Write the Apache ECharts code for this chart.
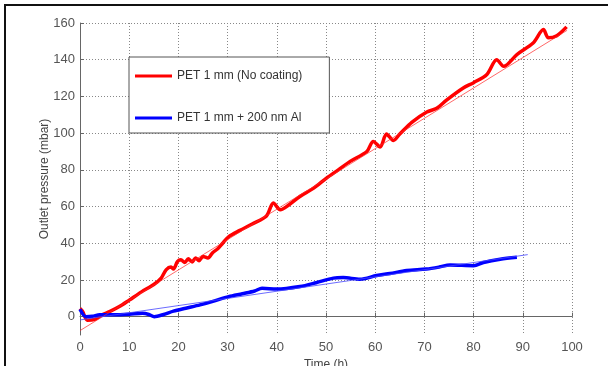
<!DOCTYPE html>
<html>
<head>
<meta charset="utf-8">
<script src="https://cdn.jsdelivr.net/npm/echarts@6/dist/echarts.min.js"></script>
<style>
  html, body { margin: 0; padding: 0; background: #fff; }
  #chart { width: 608px; height: 366px; }
</style>
</head>
<body>
<div id="chart"></div>
<script>
// values: [time (h), outlet pressure (mbar)]
var redData = [
  [0, 4.5], [0.5, 3], [1.5, -2], [3, -1.5], [4.5, 1], [6, 2.7], [8, 5.5], [10, 9],
  [12.5, 13.5], [15, 17.5], [16.5, 21], [17.5, 25.5], [18.5, 27], [19, 26], [19.8, 30],
  [20.5, 31], [21.3, 29.5], [22, 31.5], [22.8, 29.8], [23.5, 32], [24.2, 30.5], [25, 32.8],
  [26, 32], [27, 35], [28, 37], [29, 40], [30.2, 43.5], [32.5, 47], [35, 50.5], [37.9, 54.9],
  [39.3, 61.9], [40.7, 58.2], [42.5, 61], [44.7, 65.5], [47.5, 70], [50.1, 75.5], [52.5, 80],
  [54.9, 84.6], [58.3, 90], [59.6, 95.5], [61, 92.5], [62.3, 99.5], [63.7, 96], [65, 99.5],
  [67.5, 106], [70.5, 111.5], [72.5, 113.5], [74.5, 118], [77.9, 124.6], [80, 127.5],
  [82.7, 132], [84.7, 140], [86.1, 136.4], [88.8, 142.8], [92.1, 149.1], [94.2, 156.4],
  [95.2, 151.9], [96.9, 153.1], [98.9, 157.9]
]
var redFit = [[0, -7.6], [99, 156]]
var blueData = [
  [0, 4], [1.2, 0], [2.5, 0.2], [4, 1], [7, 1], [10, 1.3], [12.7, 1.8], [14, 1.2], [15.1, 0],
  [17, 1.2], [19, 3], [21.5, 4.6], [24.4, 6.4], [27, 8.3], [30.2, 10.9], [33, 12.5],
  [35.5, 14], [37, 15.5], [40, 15], [44.7, 16.4], [48, 18.5], [51.5, 21], [53.5, 21.3],
  [56.9, 20.4], [60.3, 22.4], [63, 23.5], [66.4, 25.1], [70.4, 25.9], [73, 27], [75.2, 28.2],
  [80, 27.8], [82, 29.5], [85.4, 31.3], [88.8, 32.4]
]
var blueFit = [[0, -1.8], [91, 33.8]]
var yTicks = [0, 20, 40, 60, 80, 100, 120, 140, 160]
var seriesNames = ['PET 1 mm (No coating)', 'PET 1 mm + 200 nm Al']

var myChart = echarts.init(document.getElementById('chart'))
var font = 'Liberation Sans, Arial, sans-serif'
var gridLine = {
  show: true,
  lineStyle: { color: '#888', type: [1, 2], width: 1 },
}
var option = {
  animation: false,
  backgroundColor: '#fff',
  textStyle: { fontFamily: font },
  grid: { left: 80, right: 36, top: 23, bottom: 31, outerBoundsMode: 'none' },
  legend: {
    orient: 'vertical',
    left: 129,
    top: 57,
    padding: [13, 27, 9, 6],
    itemGap: 30,
    itemWidth: 37,
    itemHeight: 3,
    icon: 'rect',
    backgroundColor: '#fff',
    borderColor: '#555',
    borderWidth: 1,
    textStyle: { fontSize: 12, color: '#333', fontFamily: font },
    data: seriesNames,
  },
  xAxis: {
    type: 'value',
    min: 0,
    max: 100,
    interval: 10,
    name: 'Time (h)',
    nameLocation: 'middle',
    nameGap: 23,
    nameTextStyle: { fontSize: 12, color: '#444' },
    axisLine: { lineStyle: { color: '#666' } },
    axisTick: { inside: true, length: 4, lineStyle: { color: '#666' } },
    axisLabel: { fontSize: 13, color: '#555', margin: 6 },
    splitLine: gridLine,
  },
  yAxis: {
    type: 'value',
    min: -10,
    max: 160,
    name: 'Outlet pressure (mbar)',
    nameLocation: 'middle',
    nameGap: 29,
    nameMoveOverlap: false,
    nameTextStyle: { fontSize: 12, color: '#444' },
    axisLine: { show: true, lineStyle: { color: '#666' } },
    axisTick: { show: true, inside: true, length: 4, customValues: yTicks, lineStyle: { color: '#666' } },
    axisLabel: { fontSize: 13, color: '#555', margin: 5, customValues: yTicks },
    splitLine: gridLine,
  },
  graphic: [
    {
      type: 'rect',
      shape: { x: 5, y: 5, width: 700, height: 500 },
      style: { fill: 'none', stroke: '#111', lineWidth: 2 },
      silent: true,
      z: 100,
    },
  ],
  series: [
    {
      name: seriesNames[0],
      type: 'line',
      data: redData,
      showSymbol: false,
      smooth: 0.3,
      lineStyle: { color: '#ff0000', width: 3.5 },
      itemStyle: { color: '#ff0000' },
      z: 3,
    },
    {
      name: 'red fit',
      type: 'line',
      data: redFit,
      showSymbol: false,
      lineStyle: { color: 'rgba(255,40,40,0.7)', width: 1 },
      z: 4,
    },
    {
      name: seriesNames[1],
      type: 'line',
      data: blueData,
      showSymbol: false,
      smooth: 0.3,
      lineStyle: { color: '#0000ff', width: 3.5 },
      itemStyle: { color: '#0000ff' },
      z: 3,
    },
    {
      name: 'blue fit',
      type: 'line',
      data: blueFit,
      showSymbol: false,
      lineStyle: { color: 'rgba(70,70,255,0.8)', width: 1 },
      z: 4,
    },
  ],
}
myChart.setOption(option)
window.addEventListener('resize', () => {
  myChart.resize()
})
</script>
</body>
</html>
